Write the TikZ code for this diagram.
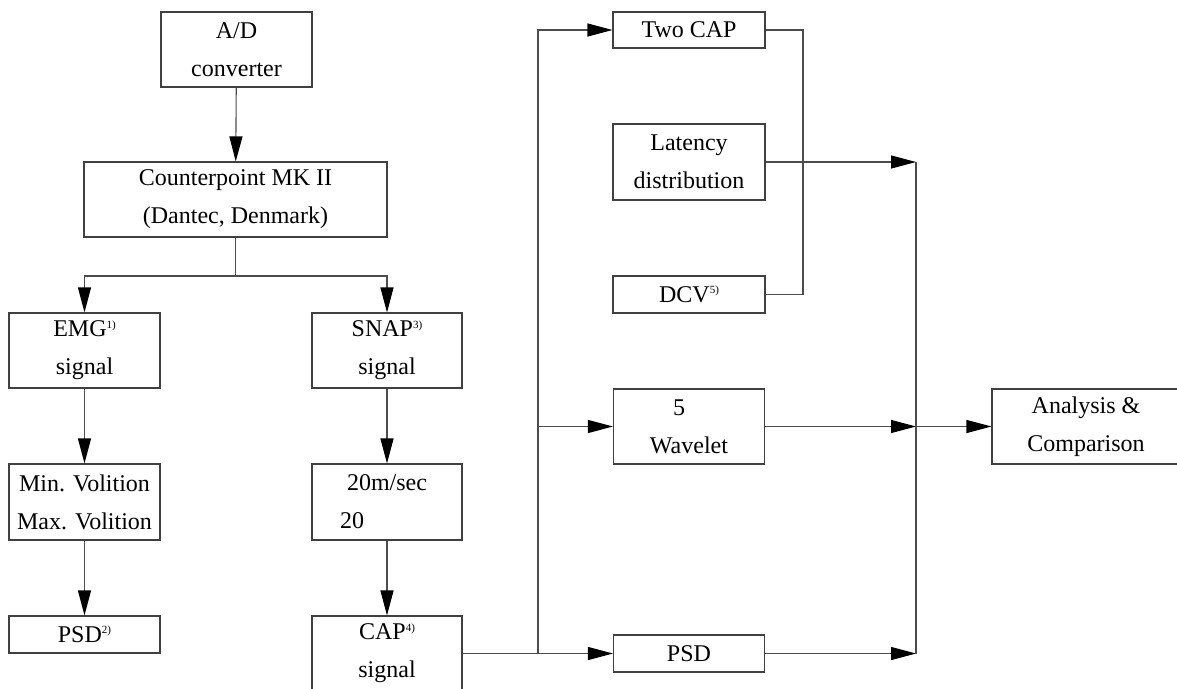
\documentclass[tikz,border=0pt]{standalone}
\usepackage{fontspec}
\setmainfont{Liberation Serif}
\usetikzlibrary{arrows.meta}
\newcommand\mysup[1]{\raisebox{8.5pt}{\fontsize{11}{11}\selectfont #1}}
\begin{document}
\begin{tikzpicture}[x=1pt,y=-1pt,
  box/.style={draw=black!75, line width=1.1pt, inner sep=0pt, align=center,
    font=\fontsize{24}{38}\selectfont, text=black},
  conn/.style={draw=black!70, line width=1.1pt},
  arr/.style={conn, -{Triangle[length=25pt,width=13pt,fill=black,color=black]}}]
\useasboundingbox (0,0) rectangle (1177,688);
\fill[white] (0,0) rectangle (1177,688);
% left column
\node[box, minimum width=151pt, minimum height=75pt] (ad) at (236.5,49.5) {A/D\\converter};
\node[box, minimum width=303pt, minimum height=75pt] (cp) at (235.5,199.5) {Counterpoint MK II\\(Dantec, Denmark)};
\node[box, minimum width=151pt, minimum height=75pt] (emg) at (84.5,350.5) {EMG\mysup{1)}\\signal};
\node[box, minimum width=150pt, minimum height=75pt] (snap) at (387,350.5) {SNAP\mysup{3)}\\signal};
\node[box, minimum width=151pt, minimum height=76pt] (vol) at (84.5,502) {Min. Volition\\Max. Volition};
\node[box, minimum width=150pt, minimum height=76pt] (m20) at (387,502) {20m/sec\\20\hspace*{70pt}};
\node[box, minimum width=151pt, minimum height=37pt] (psd2) at (84.5,634.5) {PSD\mysup{2)}};
\node[box, minimum width=150pt, minimum height=75pt] (cap) at (387,653.5) {CAP\mysup{4)}\\signal};
% right part
\node[box, minimum width=152pt, minimum height=36pt] (twocap) at (689,30) {Two CAP};
\node[box, minimum width=152pt, minimum height=76pt] (lat) at (689,162) {Latency\\distribution};
\node[box, minimum width=152pt, minimum height=37pt] (dcv) at (689,294.5) {DCV\mysup{5)}};
\node[box, minimum width=151pt, minimum height=75pt] (wav) at (689,426.5) {5\hspace*{20pt}\\Wavelet};
\node[box, minimum width=151pt, minimum height=37pt] (psd) at (689,653.5) {PSD};
\node[box, minimum width=188pt, minimum height=75pt] (ana) at (1086,426.5) {Analysis \&\\Comparison};
% coordinates
\coordinate (br) at (235.5,276);
\coordinate (j1) at (538,653.5);
\coordinate (j2) at (538,426.5);
\coordinate (c1) at (803,30);
\coordinate (m1) at (916,162);
\coordinate (m2) at (916,426.5);
\coordinate (m3) at (916,653.5);
% connectors
\draw[arr] (ad) -- (cp);
\draw[conn] (cp) -- (br);
\draw[arr] (br) -| (emg.north);
\draw[arr] (br) -| (snap.north);
\draw[arr] (emg) -- (vol);
\draw[arr] (vol) -- (psd2);
\draw[arr] (snap) -- (m20);
\draw[arr] (m20) -- (cap);
\draw[conn] (cap.east) -- (j1);
\draw[arr] (j1) -- (psd.west);
\draw[arr] (j1) |- (twocap.west);
\draw[arr] (j2) -- (wav.west);
\draw[conn] (twocap.east) -- (c1) |- (dcv.east);
\draw[arr] (lat.east) -- (m1);
\draw[arr] (wav.east) -- (m2);
\draw[arr] (psd.east) -- (m3);
\draw[conn] (m1) -- (m3);
\draw[arr] (m2) -- (ana.west);
\end{tikzpicture}
\end{document}
